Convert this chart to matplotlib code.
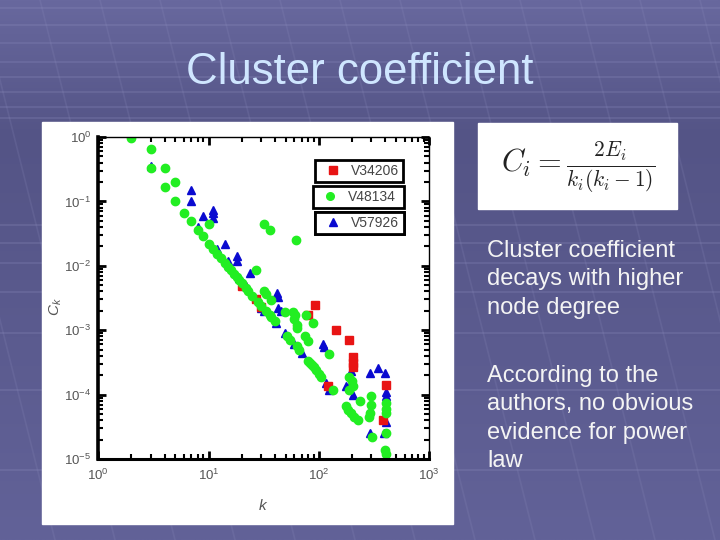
import numpy as np
import matplotlib
matplotlib.use("Agg")
import matplotlib.pyplot as plt
from matplotlib.patches import Rectangle
from matplotlib.lines import Line2D

plt.rcParams['font.family'] = ['Liberation Sans', 'DejaVu Sans']
plt.rcParams['mathtext.fontset'] = 'custom'
plt.rcParams['mathtext.rm'] = 'Liberation Sans'
plt.rcParams['mathtext.it'] = 'Liberation Sans:italic'

# data: degree k and cluster coefficient C_k
red_k = [20, 27, 30, 80, 92, 122, 144, 190, 203, 203, 203, 380, 410]
red_c = [0.0048, 0.0030, 0.0023, 0.0017, 0.0025, 0.000134, 0.0010, 0.0007,
         0.00039, 0.00031, 0.00027, 4.1e-5, 0.00014]

green_k = [2, 3, 3, 4, 4, 5, 5, 6, 7, 8, 9, 10, 10, 11, 12, 13, 14, 15, 16,
           17, 18, 19, 20, 22, 23, 25, 28, 30, 33, 36, 37, 40, 51, 55, 63, 66,
           80, 83, 86, 90, 95, 100, 105, 135,
           27, 32, 33, 37, 49, 58, 60, 61, 63, 64, 77, 89, 75, 80, 123,
           32, 36, 62,
           190, 200, 203, 190, 178, 185, 196, 210, 227, 236, 300, 295, 290,
           285, 303, 410, 410, 410, 410, 395, 410]
green_c = [0.96, 0.64, 0.33, 0.33, 0.166, 0.20, 0.10, 0.066, 0.049, 0.036,
           0.029, 0.022, 0.044, 0.018, 0.015, 0.013, 0.011, 0.0095, 0.0085,
           0.0075, 0.0066, 0.0060, 0.0054, 0.0045, 0.0040, 0.0034, 0.0027,
           0.0024, 0.0020, 0.0017, 0.0016, 0.0014, 0.0008, 0.0007, 0.00056,
           0.0005, 0.00033, 0.00031, 0.00029, 0.00027, 0.00024, 0.00021,
           0.00019, 0.000117,
           0.0087, 0.0040, 0.0037, 0.0029, 0.0019, 0.0019, 0.0015, 0.0017,
           0.0012, 0.0011, 0.0017, 0.0013, 0.0008, 0.00067, 0.00042,
           0.044, 0.036, 0.025,
           0.00019, 0.00016, 0.000134, 0.00012, 6.6e-5, 5.8e-5, 5.2e-5,
           4.5e-5, 4.1e-5, 7.9e-5, 9.4e-5, 7.0e-5, 5.2e-5, 4.5e-5, 2.2e-5,
           7.4e-5, 6.0e-5, 5.2e-5, 2.5e-5, 1.4e-5, 1.2e-5]

blue_k = [3, 7, 7, 9, 11, 11, 11, 8, 12, 14, 15, 18, 18, 19, 22, 24, 30, 32,
          42, 43, 43, 45, 41, 49, 60, 70, 109, 112, 117, 125, 178, 196, 200,
          205, 290, 346, 395, 410, 410, 410, 290, 390]
blue_c = [0.35, 0.15, 0.10, 0.059, 0.074, 0.065, 0.055, 0.040, 0.018, 0.022,
          0.012, 0.014, 0.012, 0.0065, 0.0048, 0.0077, 0.0022, 0.0020, 0.0038,
          0.0033, 0.0022, 0.0020, 0.0013, 0.0009, 0.0006, 0.00045, 0.0006,
          0.00055, 0.00015, 0.00012, 0.000134, 0.00023, 0.00016, 0.0001,
          0.00022, 0.00026, 0.00022, 9.4e-5, 0.00011, 3.8e-5, 2.5e-5, 2.5e-5]

series_names = ['V34206', 'V48134', 'V57926']

title = 'Cluster coefficient'
para1 = 'Cluster coefficient\ndecays with higher\nnode degree'
para2 = 'According to the\nauthors, no obvious\nevidence for power\nlaw'

fig = plt.figure(figsize=(7.2, 5.4), dpi=100)

# slide background
bg = fig.add_axes([0, 0, 1, 1])
bg.set_xlim(0, 720)
bg.set_ylim(540, 0)
bg.axis('off')
t = np.linspace(0, 1, 256)[:, None]
top = np.array([104, 104, 158]) / 255
mid = np.array([84, 84, 134]) / 255
bot = np.array([98, 98, 152]) / 255
grad = np.where(t < 0.25, top + (mid - top) * (t / 0.25),
                mid + (bot - mid) * ((t - 0.25) / 0.75))
bg.imshow(grad[:, None, :].repeat(2, axis=1), extent=[0, 720, 540, 0],
          aspect='auto', zorder=0)
# faint perspective grid
for y in [8, 25, 43, 62, 77, 92, 107, 118, 225, 243, 263, 292, 333, 390, 470]:
    bg.plot([0, 720], [y, y], color='#9090c0', lw=1.2, alpha=0.28, zorder=1)
for x0 in np.arange(-200, 760, 60):
    bg.plot([x0, x0 + 135], [0, 540], color='#9090c0', lw=1.2, alpha=0.18,
            zorder=1)

# white picture panels
bg.add_patch(Rectangle((42, 122), 411, 402, color='white', zorder=2))
bg.add_patch(Rectangle((478, 123), 199, 86, color='white', zorder=2))

bg.text(360, 84, title, ha='center', va='baseline', fontsize=31.5,
        color='#cfe6ff', zorder=3)
bg.text(578, 167, r'$C_i = \frac{2E_i}{k_i(k_i-1)}$', ha='center',
        va='center', fontsize=22, math_fontfamily='cm', color='#222222',
        zorder=3)
bg.text(487, 240, para1, ha='left', va='top', fontsize=17, color='#f4f4f4',
        linespacing=1.38, zorder=3)
bg.text(487, 365, para2, ha='left', va='top', fontsize=17, color='#f4f4f4',
        linespacing=1.38, zorder=3)

# the chart
ax = fig.add_axes([98.3 / 720, 1 - 459 / 540, 330.7 / 720, 322 / 540])
ax.set_facecolor('white')
ax.plot(blue_k, blue_c, '^', color='#0a0ad0', ms=6.2, ls='none')
ax.plot(red_k, red_c, 's', color='#e81414', ms=5.6, ls='none')
ax.plot(green_k, green_c, 'o', color='#22ee22', ms=6, ls='none')
ax.set_xscale('log')
ax.set_yscale('log')
ax.set_xlim(1, 1000)
ax.set_ylim(1e-5, 1)

ax.spines['left'].set_linewidth(2.6)
ax.spines['bottom'].set_linewidth(2.2)
ax.spines['top'].set_linewidth(1)
ax.spines['right'].set_linewidth(1)
ax.tick_params(which='both', direction='in', top=True, right=True,
               colors='black', labelcolor='#555555', labelsize=9.5)
ax.tick_params(which='major', length=6, width=2)
ax.tick_params(which='minor', length=3.5, width=1.5)
ax.tick_params(axis='x', pad=6)
ax.tick_params(axis='y', pad=5)

ax.set_xlabel(r'$k$', fontsize=11, color='#555555')
ax.set_ylabel(r'$C_k$', fontsize=11, color='#555555')
ax.xaxis.set_label_coords(0.498, -0.12)
ax.yaxis.set_label_coords(-0.104, 0.472)

# three boxed legend entries
colors = ['#e81414', '#22ee22', '#0a0ad0']
markers = ['s', 'o', '^']
boxes = [(0.655, 0.860, 0.266), (0.648, 0.780, 0.276), (0.655, 0.699, 0.269)]
for name, c, m, (x0, y0, w) in zip(series_names, colors, markers, boxes):
    h = Line2D([], [], marker=m, color=c, ls='none', ms=5.5)
    leg = ax.legend([h], [name], loc='lower left', mode='expand',
                    bbox_to_anchor=(x0, y0, w, 0.065), borderaxespad=0,
                    fontsize=10, borderpad=0.28, handletextpad=0.3,
                    handlelength=2.0, fancybox=False, framealpha=1,
                    edgecolor='black')
    leg.get_frame().set_linewidth(2)
    for txt in leg.get_texts():
        txt.set_color('#444444')
    ax.add_artist(leg)

fig.savefig('out.png', dpi=100)
